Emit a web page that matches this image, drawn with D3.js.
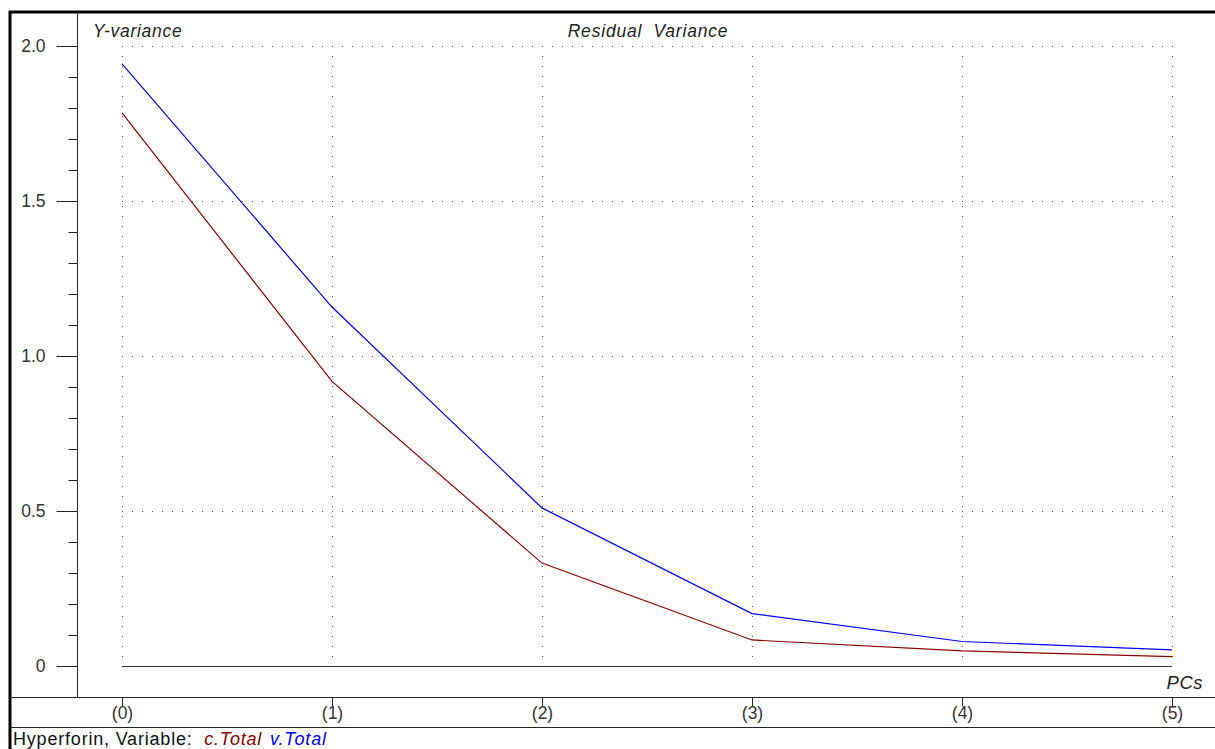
<!DOCTYPE html>
<html><head><meta charset="utf-8">
<script src="https://cdn.jsdelivr.net/npm/d3@7"></script>
<style>
html,body{margin:0;padding:0;background:#fff;}
svg{display:block;font-family:"Liberation Sans",Arial,sans-serif;}
text{white-space:pre;}
</style></head>
<body>
<script>
const pcs = [0,1,2,3,4,5];
const xTickLabels = ["(0)","(1)","(2)","(3)","(4)","(5)"];
const cTotal = [1.784, 0.918, 0.332, 0.084, 0.049, 0.030];
const vTotal = [1.942, 1.158, 0.510, 0.169, 0.079, 0.052];
const yMajorTicks = [0, 0.5, 1.0, 1.5, 2.0];
const yTickLabels = ["0", "0.5", "1.0", "1.5", "2.0"];
const yMinorTicks = d3.range(0, 2.0001, 0.1);
const seriesNames = ["c.Total", "v.Total"];
const seriesColors = ["#8b0000", "#0000ff"];

const W = 1215, H = 749;
const FS = 17.5;
const svg = d3.select("body").append("svg").attr("width", W).attr("height", H);

const x = d3.scaleLinear().domain([0,5]).range([122,1172]);
const y = d3.scaleLinear().domain([0,2]).range([666,46]);

// frame
svg.append("line").attr("x1",10).attr("x2",10).attr("y1",11).attr("y2",H).attr("stroke","#000").attr("stroke-width",3);
svg.append("line").attr("x1",9).attr("x2",W).attr("y1",12).attr("y2",12).attr("stroke","#000").attr("stroke-width",3);
svg.append("line").attr("x1",10).attr("x2",W).attr("y1",697.5).attr("y2",697.5).attr("stroke","#222").attr("stroke-width",1);
svg.append("line").attr("x1",10).attr("x2",W).attr("y1",727.5).attr("y2",727.5).attr("stroke","#222").attr("stroke-width",1);
svg.append("line").attr("x1",77.5).attr("x2",77.5).attr("y1",12).attr("y2",697).attr("stroke","#222").attr("stroke-width",1);

// grid dotted
const grid = svg.append("g").attr("stroke","#555").attr("stroke-width",1).attr("stroke-dasharray","1,9");
pcs.forEach(p=>{
  grid.append("line").attr("x1",Math.round(x(p))+0.5).attr("x2",Math.round(x(p))+0.5).attr("y1",y(2)).attr("y2",y(0)).attr("shape-rendering","crispEdges");
});
yMajorTicks.filter(v=>v>0).forEach(v=>{
  grid.append("line").attr("x1",x(0)).attr("x2",x(5)).attr("y1",Math.round(y(v))+0.5).attr("y2",Math.round(y(v))+0.5).attr("shape-rendering","crispEdges");
});

// zero line
svg.append("line").attr("x1",x(0)).attr("x2",x(5)).attr("y1",y(0)+0.5).attr("y2",y(0)+0.5).attr("stroke","#333").attr("stroke-width",1);

// y axis ticks
const yAxis = d3.axisLeft(y).tickValues(yMajorTicks).tickSize(21).tickPadding(11)
  .tickFormat((d,i)=>yTickLabels[i]);
const ya = svg.append("g").attr("transform","translate(77.5,0)").call(yAxis);
ya.select(".domain").remove();
ya.selectAll(".tick line").attr("stroke","#222");
ya.selectAll(".tick text").attr("font-size",FS).attr("fill","#333").attr("font-family","Liberation Sans, Arial, sans-serif");
const yMinor = d3.axisLeft(y).tickValues(yMinorTicks.filter(v=>Math.abs(v*2-Math.round(v*2))>1e-6)).tickSize(9).tickFormat("");
const ym = svg.append("g").attr("transform","translate(77.5,0)").call(yMinor);
ym.select(".domain").remove();
ym.selectAll(".tick line").attr("stroke","#222");

// x axis
const xAxis = d3.axisBottom(x).tickValues(pcs).tickSize(9).tickPadding(0).tickFormat((d,i)=>xTickLabels[i]);
const xa = svg.append("g").attr("transform","translate(0,697.5)").call(xAxis);
xa.select(".domain").remove();
xa.selectAll(".tick line").attr("stroke","#222");
xa.selectAll(".tick text").attr("font-size",FS).attr("fill","#333").attr("font-family","Liberation Sans, Arial, sans-serif");

// lines
const line = d3.line().x((d,i)=>x(pcs[i])).y(d=>y(d));
[cTotal, vTotal].forEach((s,k)=>{
  svg.append("path").datum(s).attr("d",line).attr("fill","none").attr("stroke",seriesColors[k]).attr("stroke-width",1.2);
});

// texts
const it = {"font-style":"italic","font-size":FS,"fill":"#222"};
function txt(t,xx,yy,anchor,extra){const e=svg.append("text").attr("x",xx).attr("y",yy).attr("text-anchor",anchor||"start").text(t);
  Object.entries(Object.assign({},it,extra||{})).forEach(([k,v])=>e.attr(k,v)); return e;}
txt("Y-variance",93,37,"start",{"letter-spacing":0.7});
txt("Residual  Variance",648,37,"middle",{"letter-spacing":0.8});
txt("PCs",1203,689,"end",{"font-size":FS+1,"letter-spacing":0.5});

const foot = svg.append("text").attr("x",13).attr("y",745).attr("font-size",FS+0.5).attr("fill","#111").attr("letter-spacing",0.8);
foot.append("tspan").text("Hyperforin, Variable:  ");
foot.append("tspan").attr("font-style","italic").attr("fill",seriesColors[0]).text(seriesNames[0]);
foot.append("tspan").attr("font-style","italic").attr("fill",seriesColors[1]).attr("dx",8).text(seriesNames[1]);
</script>
</body></html>
